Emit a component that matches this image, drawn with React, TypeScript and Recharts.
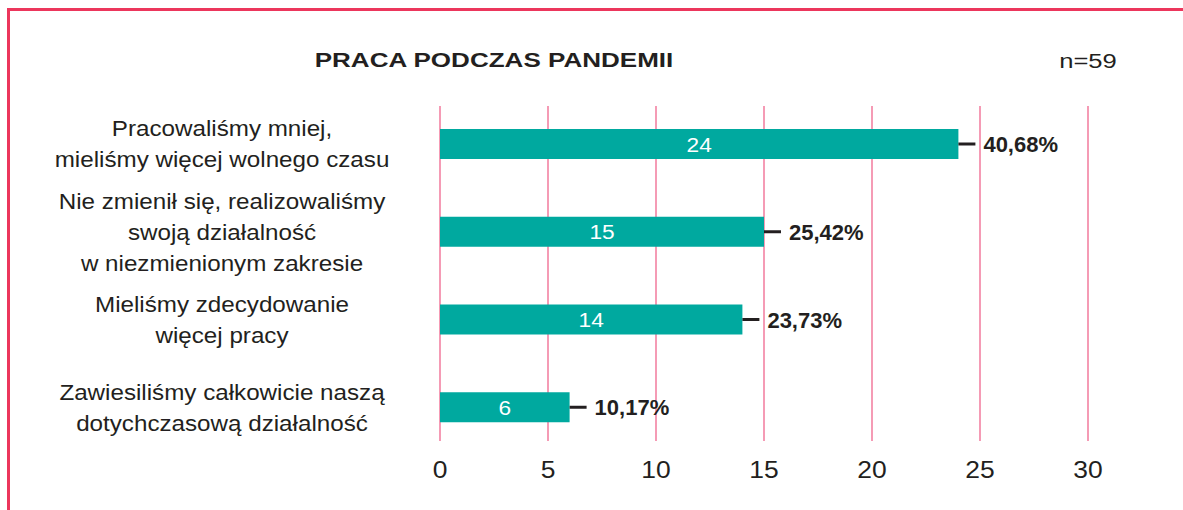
import React from "react";
import { BarChart, Bar, XAxis, YAxis, CartesianGrid, LabelList } from "recharts";

const categories: string[][] = [
  ["Pracowaliśmy mniej,", "mieliśmy więcej wolnego czasu"],
  ["Nie zmienił się, realizowaliśmy", "swoją działalność", "w niezmienionym zakresie"],
  ["Mieliśmy zdecydowanie", "więcej pracy"],
  ["Zawiesiliśmy całkowicie naszą", "dotychczasową działalność"],
];
const counts = [24, 15, 14, 6];
const percentLabels = ["40,68%", "25,42%", "23,73%", "10,17%"];
const xTicks = [0, 5, 10, 15, 20, 25, 30];
const title = "PRACA PODCZAS PANDEMII";
const sampleLabel = "n=59";

const data = categories.map((lines, i) => ({
  name: lines.join("\n"),
  value: counts[i],
  pct: percentLabels[i],
}));

const FONT = "'Liberation Sans', Arial, Helvetica, sans-serif";
const TEXT = "#231F20";
const TEAL = "#00A99F";
const PINK = "#F59BB5";
const RED = "#EC365C";

function SText(props: any) {
  const { x, y, sx = 1, children, ...rest } = props;
  return (
    <text
      transform={`translate(${x},${y}) scale(${sx},1)`}
      x={0}
      y={0}
      fontFamily={FONT}
      {...rest}
    >
      {children}
    </text>
  );
}

const CategoryTick = (props: any) => {
  const { y, payload } = props;
  const lines = String(payload.value).split("\n");
  const lh = 31;
  return (
    <g>
      {lines.map((l, i) => (
        <SText
          key={i}
          x={222}
          y={Number(y) + (i - (lines.length - 1) / 2) * lh + 8}
          sx={1.1}
          textAnchor="middle"
          fontSize={22}
          fill={TEXT}
        >
          {l}
        </SText>
      ))}
    </g>
  );
};

const XTick = (props: any) => {
  const { x, y, payload } = props;
  return (
    <SText x={x} y={Number(y) + 37} sx={1.15} textAnchor="middle" fontSize={23} fill={TEXT}>
      {payload.value}
    </SText>
  );
};

const ValueLabel = (props: any) => {
  const { x, y, width, height, value } = props;
  const cx = Number(x) + Number(width) / 2;
  const cy = Number(y) + Number(height) / 2;
  return (
    <SText x={cx} y={cy + 7.5} sx={1.08} textAnchor="middle" fontSize={21} fill="#ffffff">
      {value}
    </SText>
  );
};

const PctLabel = (props: any) => {
  const { x, y, width, height, value } = props;
  const ex = Number(x) + Number(width);
  const cy = Number(y) + Number(height) / 2;
  return (
    <g>
      <line x1={ex} x2={ex + 17} y1={cy} y2={cy} stroke={TEXT} strokeWidth={3} />
      <text x={ex + 25} y={cy + 8} fontFamily={FONT} fontWeight="bold" fontSize={22} fill={TEXT}>
        {value}
      </text>
    </g>
  );
};

export default function App() {
  return (
    <div
      style={{
        position: "fixed",
        left: 0,
        top: 0,
        width: 1183,
        height: 510,
        background: "#ffffff",
        overflow: "hidden",
      }}
    >
      <BarChart
        width={1183}
        height={510}
        data={data}
        layout="vertical"
        margin={{ top: 106, right: 95, bottom: 0, left: 0 }}
        barSize={30}
      >
        <CartesianGrid horizontal={false} stroke={PINK} strokeWidth={2} />
        <XAxis
          type="number"
          domain={[0, 30]}
          ticks={xTicks}
          interval={0}
          axisLine={false}
          tickLine={false}
          tickSize={0}
          tickMargin={0}
          height={69}
          tick={<XTick />}
        />
        <YAxis
          type="category"
          dataKey="name"
          width={440}
          interval={0}
          axisLine={false}
          tickLine={false}
          padding={{ top: -6, bottom: -10 }}
          tick={<CategoryTick />}
        />
        <Bar dataKey="value" fill={TEAL} isAnimationActive={false}>
          <LabelList dataKey="value" content={<ValueLabel />} />
          <LabelList dataKey="pct" content={<PctLabel />} />
        </Bar>
      </BarChart>
      <svg
        width={1183}
        height={510}
        style={{ position: "absolute", left: 0, top: 0, pointerEvents: "none" }}
      >
        <rect x={7} y={8} width={1176} height={3} fill={RED} />
        <rect x={7} y={8} width={3} height={502} fill={RED} />
        <SText x={494} y={67} sx={1.24} textAnchor="middle" fontSize={21} fontWeight="bold" fill={TEXT}>
          {title}
        </SText>
        <SText x={1088} y={68.3} sx={1.28} textAnchor="middle" fontSize={20} fill={TEXT}>
          {sampleLabel}
        </SText>
      </svg>
    </div>
  );
}
